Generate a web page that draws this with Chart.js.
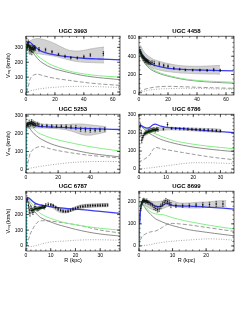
<!DOCTYPE html>
<html>
<head>
<meta charset="utf-8">
<script src="https://cdn.jsdelivr.net/npm/chart.js@4.4.0/dist/chart.umd.min.js"></script>
<style>
  body { margin: 0; background: #fff; width: 249px; height: 323px; position: relative; overflow: hidden; }
  canvas { position: absolute; }
</style>
</head>
<body>
<canvas id="c1" width="124" height="77" style="left:0;top:26px"></canvas>
<canvas id="c2" width="113" height="77" style="left:125px;top:26px"></canvas>
<canvas id="c3" width="124" height="77" style="left:0;top:104px"></canvas>
<canvas id="c4" width="113" height="77" style="left:125px;top:104px"></canvas>
<canvas id="c5" width="124" height="86" style="left:0;top:181px"></canvas>
<canvas id="c6" width="113" height="86" style="left:125px;top:181px"></canvas>
<script>
// ---- UGC 3993 ----
const r3993 = [0, 0.5, 1, 2, 3, 5, 8, 10, 15, 20, 30, 40, 50, 65];
const tot3993 = [null, 325, 335, 338, 332, 315, 290, 276, 260, 250, 236, 227, 222, 216];
const halo3993 = [null, 315, 328, 320, 305, 280, 245, 228, 195, 172, 140, 122, 110, 100];
const disk3993 = [null, 290, 300, 300, 290, 262, 225, 205, 175, 155, 130, 110, 97, 83];
const gas3993 = [0, 5, 15, 55, 90, 113, 120, 115, 102, 92, 78, 65, 55, 45];
const bul3993 = [0, 1, 2, 5, 8, 12, 19, 22, 28, 32, 37, 38, 36, 30];
const cyR3993 = [0, 0.15, 0.35], cyV3993 = [0, 200, 320];
const dgR3993 = [0.5, 1, 2, 3, 4, 5, 6], dgV3993 = [285, 320, 310, 300, 292, 288, 292];
const inR3993 = [0.8, 1.2, 1.6, 2.0, 2.4, 2.8, 3.2, 3.6, 4.0, 4.4, 4.8, 5.2, 5.6, 6.0, 6.5];
const inV3993 = [300, 320, 330, 310, 295, 280, 300, 290, 275, 300, 285, 295, 290, 300, 290];
const inE3993 = [20, 15, 20, 25, 20, 25, 15, 20, 25, 15, 20, 15, 15, 12, 12];
const outR3993 = [9, 13.5, 18, 22.5, 27, 31, 35.5, 40, 44.5, 53.5];
const outV3993 = [287, 284, 270, 253, 240, 230, 229, 237, 248, 258];
const outE3993 = [12, 10, 8, 8, 8, 8, 8, 10, 10, 14];
const bandR3993 = [1, 3, 5, 8, 10, 15, 20, 25, 30, 35, 40, 45, 50, 54];
const bandUp3993 = [330, 345, 355, 360, 358, 345, 325, 300, 280, 275, 280, 290, 298, 302];
const bandLo3993 = [260, 262, 262, 258, 255, 248, 240, 228, 215, 205, 200, 198, 196, 195];

// ---- UGC 4458 ----
const r4458 = [0, 0.3, 1, 2, 4, 7, 10, 15, 20, 30, 40, 50, 65];
const tot4458 = [null, 480, 450, 420, 385, 330, 305, 283, 268, 255, 249, 245, 240];
const halo4458 = [null, 470, 440, 400, 340, 285, 250, 215, 190, 155, 135, 125, 115];
const disk4458 = [null, 455, 425, 385, 325, 270, 238, 205, 182, 148, 128, 116, 105];
const gas4458 = [0, 5, 15, 25, 38, 50, 60, 67, 70, 66, 60, 55, 48];
const bul4458 = [0, 2, 5, 10, 18, 28, 35, 42, 45, 48, 47, 43, 37];
const cyR4458 = [0, 0.15, 0.3], cyV4458 = [0, 280, 470];
const dgR4458 = [0.5, 1, 2, 3, 4, 5, 6], dgV4458 = [460, 440, 405, 385, 370, 355, 345];
const inR4458 = [0.5, 1, 1.5, 2, 2.5, 3, 3.5, 4, 4.5, 5, 5.5, 6, 6.5, 7, 8, 9];
const inV4458 = [470, 450, 430, 410, 395, 380, 375, 360, 350, 355, 340, 345, 335, 330, 325, 330];
const inE4458 = [30, 25, 25, 25, 20, 25, 20, 25, 20, 20, 25, 20, 20, 20, 20, 20];
const outR4458 = [10.5, 14, 17, 20, 24, 28, 32, 37, 42, 47, 51.5, 56];
const outV4458 = [320, 315, 300, 290, 268, 258, 250, 248, 248, 245, 252, 245];
const outE4458 = [25, 20, 15, 15, 12, 10, 10, 10, 10, 10, 15, 12];
const bandR4458 = [1, 3, 5, 8, 10, 15, 20, 25, 30, 40, 50, 56];
const bandUp4458 = [520, 460, 420, 385, 365, 340, 320, 305, 295, 290, 295, 300];
const bandLo4458 = [390, 340, 305, 280, 265, 245, 232, 222, 215, 208, 205, 203];

// ---- UGC 5253 ----
const r5253 = [0, 0.3, 1, 2, 3, 5, 8, 10, 15, 20, 30, 40, 50, 58.5];
const tot5253 = [null, 235, 250, 258, 256, 248, 242, 240, 238, 236, 232, 229, 226, 224];
const halo5253 = [null, 255, 262, 255, 245, 225, 203, 195, 178, 165, 145, 127, 113, 103];
const disk5253 = [null, 240, 248, 235, 222, 200, 178, 167, 145, 130, 108, 90, 78, 70];
const gas5253 = [0, 10, 30, 70, 98, 115, 127, 128, 115, 105, 90, 78, 70, 64];
const bul5253 = [0, 1, 2, 5, 7, 10, 15, 18, 24, 30, 39, 43, 44, 43];
const cyR5253 = [0, 0.15, 0.3], cyV5253 = [0, 150, 240];
const dgR5253 = [0.5, 1, 2, 3, 4, 5], dgV5253 = [245, 255, 258, 262, 255, 250];
const inR5253 = [0.5, 1, 1.5, 2, 2.5, 3, 3.5, 4, 4.5, 5, 5.5, 6, 7, 8];
const inV5253 = [245, 255, 250, 265, 250, 258, 270, 255, 262, 248, 258, 250, 255, 250];
const inE5253 = [12, 10, 12, 12, 10, 12, 10, 12, 10, 12, 10, 10, 10, 10];
const outR5253 = [10, 13, 16, 19, 22, 25, 28, 31, 34, 37, 40, 43, 46, 49];
const outV5253 = [245, 245, 243, 242, 242, 240, 238, 235, 225, 222, 220, 220, 222, 225];
const outE5253 = [8, 8, 8, 8, 8, 10, 10, 12, 12, 12, 12, 10, 10, 10];
const bandR5253 = [1, 5, 10, 15, 20, 25, 30, 35, 40, 45, 50];
const bandUp5253 = [262, 262, 255, 252, 252, 252, 255, 255, 250, 245, 240];
const bandLo5253 = [230, 232, 232, 230, 228, 222, 210, 195, 192, 200, 210];

// ---- UGC 6786 ----
const r6786 = [0, 0.2, 0.5, 1, 2, 3, 4, 5, 6, 7, 8, 10, 13, 16, 20, 25, 30, 35];
const tot6786 = [null, 230, 245, 240, 232, 228, 232, 245, 250, 245, 238, 232, 228, 225, 220, 214, 208, 203];
const halo6786 = [null, 235, 245, 240, 228, 218, 210, 202, 196, 190, 183, 172, 158, 148, 138, 128, 120, 113];
const disk6786 = [null, 232, 240, 235, 220, 208, 197, 188, 180, 172, 165, 155, 143, 133, 122, 112, 104, 97];
const gas6786 = [0, 40, 44, 46, 55, 65, 80, 105, 120, 118, 114, 108, 100, 92, 82, 70, 60, 52];
const bul6786 = [0, 0, 1, 1, 3, 5, 6, 8, 10, 12, 14, 18, 24, 30, 35, 35, 33, 30];
const cyR6786 = [0, 0.1, 0.2], cyV6786 = [0, 140, 235];
const dgR6786 = [2, 3, 4, 5, 6, 7], dgV6786 = [195, 205, 210, 215, 218, 220];
const inR6786 = [0.5, 0.8, 1, 1.3, 1.6, 2, 2.5, 3, 3.5, 4, 4.5, 5, 5.5, 6, 6.5, 7];
const inV6786 = [240, 200, 160, 175, 185, 195, 200, 205, 210, 212, 215, 218, 220, 215, 222, 220];
const inE6786 = [12, 15, 15, 12, 12, 10, 10, 10, 10, 10, 10, 10, 10, 10, 10, 10];
const outR6786 = [9, 10.5, 12, 13.5, 15, 16.5, 18, 19.5, 21, 22.5, 24, 25.5, 27, 28.5, 30];
const outV6786 = [222, 248, 226, 225, 224, 224, 222, 221, 220, 219, 218, 217, 216, 214, 212];
const outE6786 = [6, 10, 6, 6, 6, 6, 6, 6, 6, 6, 6, 6, 6, 6, 6];
const bandR6786 = [2, 5, 8, 12, 16, 20, 24, 28, 30];
const bandUp6786 = [225, 228, 230, 232, 230, 228, 226, 224, 222];
const bandLo6786 = [195, 208, 215, 218, 216, 212, 208, 205, 203];

// ---- UGC 6787 ----
const r6787 = [0, 0.2, 0.5, 1, 2, 3, 4, 5, 6, 8, 10, 13, 16, 20, 25, 30, 38];
const tot6787 = [null, 280, 305, 308, 295, 280, 270, 265, 262, 256, 250, 245, 240, 235, 228, 220, 208];
const halo6787 = [null, 290, 305, 300, 275, 255, 235, 218, 205, 188, 175, 160, 146, 135, 122, 112, 100];
const disk6787 = [null, 275, 295, 285, 255, 230, 210, 193, 180, 165, 152, 135, 122, 105, 88, 75, 62];
const gas6787 = [0, 3, 10, 40, 85, 115, 140, 155, 160, 160, 158, 152, 145, 135, 118, 100, 82];
const bul6787 = [0, -2, -4, -5, -5, -3, 0, 5, 10, 18, 24, 28, 30, 35, 38, 38, 35];
const cyR6787 = [0, 0.1, 0.25], cyV6787 = [0, 180, 290];
const dgR6787 = [2, 3, 4, 5, 6, 7, 8], dgV6787 = [225, 232, 238, 240, 242, 245, 250];
const inR6787 = [0.5, 1, 1.3, 1.6, 2, 2.4, 2.8, 3.2, 3.6, 4, 4.5, 5, 5.5, 6, 6.5, 7, 7.5, 8, 9];
const inV6787 = [295, 260, 230, 210, 240, 225, 215, 230, 250, 240, 235, 238, 242, 245, 250, 248, 245, 260, 265];
const inE6787 = [15, 20, 20, 20, 15, 15, 15, 15, 15, 12, 12, 12, 12, 10, 10, 10, 10, 10, 10];
const outR6787 = [10, 11, 12, 13, 14, 15, 16, 17, 18, 19, 20, 21, 22, 23, 24, 25, 26, 27, 28, 29, 30, 31, 32, 33];
const outV6787 = [262, 258, 245, 235, 228, 222, 220, 222, 228, 235, 240, 245, 250, 252, 255, 256, 257, 258, 258, 259, 259, 260, 260, 261];
const outE6787 = [8, 8, 8, 8, 8, 8, 8, 8, 8, 8, 8, 8, 8, 8, 8, 8, 8, 8, 8, 8, 8, 8, 8, 8];
const bandR6787 = [10, 14, 18, 22, 26, 30, 33];
const bandUp6787 = [272, 240, 238, 262, 268, 270, 272];
const bandLo6787 = [250, 212, 218, 240, 247, 250, 250];

// ---- UGC 8699 ----
const r8699 = [0, 0.2, 0.5, 1, 1.5, 2, 3, 4, 5, 6, 7, 8, 9, 10, 12, 15, 20, 25, 28.3];
const tot8699 = [null, 100, 165, 192, 200, 202, 198, 188, 180, 178, 183, 192, 190, 184, 181, 180, 176, 171, 167];
const halo8699 = [null, 120, 170, 190, 185, 175, 160, 150, 145, 143, 142, 138, 133, 128, 120, 110, 96, 84, 77];
const disk8699 = [null, 110, 165, 188, 180, 168, 150, 135, 122, 115, 108, 102, 97, 92, 84, 73, 62, 52, 46];
const gas8699 = [0, 15, 30, 45, 50, 55, 62, 65, 68, 75, 85, 95, 100, 102, 100, 95, 84, 73, 66];
const bul8699 = [0, 0, 1, 2, 2, 3, 5, 8, 12, 14, 16, 18, 20, 21, 24, 27, 32, 30, 25];
const cyR8699 = [0, 0.1, 0.25], cyV8699 = [0, 70, 150];
const dgR8699 = [0.5, 1, 1.5, 2, 2.5, 3], dgV8699 = [180, 200, 205, 203, 200, 198];
const inR8699 = [0.5, 0.8, 1.1, 1.4, 1.7, 2, 2.3, 2.6, 3, 3.5, 4, 4.5, 5, 5.5, 6, 6.5, 7, 7.5, 8, 8.5, 9, 9.5];
const inV8699 = [170, 195, 205, 208, 205, 200, 205, 198, 195, 190, 185, 175, 170, 165, 168, 180, 190, 198, 205, 200, 195, 185];
const inE8699 = [10, 8, 8, 8, 8, 8, 8, 8, 8, 8, 8, 10, 10, 12, 12, 10, 10, 10, 10, 10, 12, 12];
const outR8699 = [11, 13, 15, 17, 19, 21, 23, 25];
const outV8699 = [182, 182, 183, 185, 186, 188, 190, 190];
const outE8699 = [8, 8, 8, 8, 10, 10, 12, 12];
const bandR8699 = [1, 5, 9, 12, 15, 18, 21, 24, 26];
const bandUp8699 = [210, 200, 208, 195, 195, 198, 200, 205, 205];
const bandLo8699 = [190, 160, 180, 175, 172, 172, 175, 178, 180];

// tick labels
const xTicks60 = [0, 20, 40, 60];
const xTicks40 = [0, 20, 40];
const xTicks30 = [0, 10, 20, 30];
const xTicks20 = [0, 10, 20];
const yTicks300 = [0, 100, 200, 300];
const yTicks600 = [0, 200, 400, 600];
const yTicks200 = [0, 100, 200];

const FONT = 'Liberation Sans';

const pts = (r, v) => r.map((x, i) => ({ x: x, y: v[i] }));

// frame with inward ticks on all sides + error bars
const boxPlugin = {
    id: 'box',
    afterDatasetsDraw(chart) {
        const { ctx, chartArea: a, scales: { x, y } } = chart;
        const o = chart.options.plugins.box;
        ctx.save();
        ctx.beginPath();
        ctx.rect(a.left, a.top, a.right - a.left, a.bottom - a.top);
        ctx.clip();
        ctx.strokeStyle = '#111';
        ctx.lineWidth = 0.5;
        chart.data.datasets.forEach(ds => {
            if (!ds.errs) return;
            ds.data.forEach((p, i) => {
                const px = x.getPixelForValue(p.x);
                const y1 = y.getPixelForValue(p.y - ds.errs[i]);
                const y2 = y.getPixelForValue(p.y + ds.errs[i]);
                ctx.beginPath();
                ctx.moveTo(px, y1); ctx.lineTo(px, y2);
                ctx.moveTo(px - 0.8, y1); ctx.lineTo(px + 0.8, y1);
                ctx.moveTo(px - 0.8, y2); ctx.lineTo(px + 0.8, y2);
                ctx.stroke();
            });
        });
        ctx.restore();

        ctx.save();
        ctx.strokeStyle = '#222';
        ctx.lineWidth = 0.7;
        ctx.strokeRect(a.left, a.top, a.right - a.left, a.bottom - a.top);
        ctx.beginPath();
        const xs = (step, len) => {
            for (let v = Math.ceil(x.min / step) * step; v <= x.max + 1e-9; v += step) {
                const px = x.getPixelForValue(v);
                ctx.moveTo(px, a.bottom); ctx.lineTo(px, a.bottom - len);
                ctx.moveTo(px, a.top); ctx.lineTo(px, a.top + len);
            }
        };
        const ys = (step, len) => {
            for (let v = Math.ceil(y.min / step) * step; v <= y.max + 1e-9; v += step) {
                const py = y.getPixelForValue(v);
                ctx.moveTo(a.left, py); ctx.lineTo(a.left + len, py);
                ctx.moveTo(a.right, py); ctx.lineTo(a.right - len, py);
            }
        };
        xs(o.xMinor, 1.5); xs(o.xMajor, 3);
        ys(o.yMinor, 1.5); ys(o.yMajor, 3);
        ctx.stroke();
        ctx.restore();
    }
};

function line(data, color, width, order, extra) {
    return Object.assign({
        data: data, borderColor: color, borderWidth: width, pointRadius: 0,
        fill: false, order: order, tension: 0.3, spanGaps: false
    }, extra || {});
}

function makePanel(id, g) {
    const datasets = [
        line(pts(g.outR, g.outV), '#000', 0, 0, { showLine: false, pointRadius: 0.8, pointBackgroundColor: '#000', pointBorderWidth: 0, errs: g.outE }),
        line(pts(g.inR, g.inV), '#000', 0, 0, { showLine: false, pointRadius: 0.7, pointBackgroundColor: '#000', pointBorderWidth: 0, errs: g.inE }),
        line(pts(g.dgR, g.dgV), '#0b6b0b', 2, 1),
        line(pts(g.r, g.tot), '#3b3bf0', 1.3, 2),
        line(pts(g.cyR, g.cyV), '#18b0b0', 1, 3, { tension: 0 }),
        line(pts(g.r, g.halo), '#86ee86', 1, 4),
        line(pts(g.r, g.disk), '#707070', 0.8, 5),
        line(pts(g.r, g.gas), '#808080', 0.8, 6, { borderDash: [4, 2] }),
        line(pts(g.r, g.bul), '#909090', 0.8, 7, { borderDash: [1, 1.5] }),
        line(pts(g.bandR, g.bandUp), '#9a9a9a', 0.5, 9, { fill: '+1', backgroundColor: 'rgba(165,165,165,0.5)' }),
        line(pts(g.bandR, g.bandLo), '#9a9a9a', 0.5, 10)
    ];
    return new Chart(document.getElementById(id), {
        type: 'line',
        data: { datasets: datasets },
        options: {
            responsive: false,
            animation: false,
            devicePixelRatio: 1,
            layout: { padding: { right: 2 } },
            plugins: {
                legend: { display: false },
                tooltip: { enabled: false },
                title: {
                    display: true, text: g.title, fullSize: false, color: '#000',
                    font: { family: FONT, size: 6, weight: 'bold' },
                    padding: { top: 2, bottom: 1 }
                },
                box: { xMajor: g.xTicks[1], xMinor: g.xMinor, yMajor: g.yTicks[1], yMinor: g.yMinor }
            },
            scales: {
                x: {
                    type: 'linear', min: 0, max: g.xMax,
                    grid: { display: false, drawTicks: false }, border: { display: false },
                    afterBuildTicks: s => { s.ticks = g.xTicks.map(v => ({ value: v })); },
                    afterFit: s => { s.height = g.bottom ? 16 : 8; },
                    ticks: { font: { family: FONT, size: 5 }, color: '#000', padding: 2, maxRotation: 0, autoSkip: false },
                    title: { display: !!g.bottom, text: 'R (kpc)', color: '#000', font: { family: FONT, size: 5.5 }, padding: { top: 0, bottom: 3 } }
                },
                y: {
                    min: g.yMin, max: g.yMax,
                    grid: { display: false, drawTicks: false }, border: { display: false },
                    afterBuildTicks: s => { s.ticks = g.yTicks.map(v => ({ value: v })); },
                    afterFit: s => { s.width = g.left ? 26 : 14; },
                    ticks: { font: { family: FONT, size: 5 }, color: '#000', padding: 3, autoSkip: false },
                    title: { display: !!g.left, text: 'Vᵣₒₜ (km/s)', color: '#000', font: { family: FONT, size: 5.5 }, padding: { top: 5, bottom: 0 } }
                }
            }
        },
        plugins: [boxPlugin]
    });
}

makePanel('c1', {
    title: 'UGC 3993', left: true, xMax: 65, yMin: -20, yMax: 375, xTicks: xTicks60, xMinor: 5, yTicks: yTicks300, yMinor: 20,
    r: r3993, tot: tot3993, halo: halo3993, disk: disk3993, gas: gas3993, bul: bul3993,
    cyR: cyR3993, cyV: cyV3993, dgR: dgR3993, dgV: dgV3993,
    inR: inR3993, inV: inV3993, inE: inE3993, outR: outR3993, outV: outV3993, outE: outE3993,
    bandR: bandR3993, bandUp: bandUp3993, bandLo: bandLo3993
});
makePanel('c2', {
    title: 'UGC 4458', xMax: 65.5, yMin: -25, yMax: 620, xTicks: xTicks60, xMinor: 5, yTicks: yTicks600, yMinor: 50,
    r: r4458, tot: tot4458, halo: halo4458, disk: disk4458, gas: gas4458, bul: bul4458,
    cyR: cyR4458, cyV: cyV4458, dgR: dgR4458, dgV: dgV4458,
    inR: inR4458, inV: inV4458, inE: inE4458, outR: outR4458, outV: outV4458, outE: outE4458,
    bandR: bandR4458, bandUp: bandUp4458, bandLo: bandLo4458
});
makePanel('c3', {
    title: 'UGC 5253', left: true, xMax: 58.5, yMin: -21, yMax: 310, xTicks: xTicks40, xMinor: 5, yTicks: yTicks300, yMinor: 20,
    r: r5253, tot: tot5253, halo: halo5253, disk: disk5253, gas: gas5253, bul: bul5253,
    cyR: cyR5253, cyV: cyV5253, dgR: dgR5253, dgV: dgV5253,
    inR: inR5253, inV: inV5253, inE: inE5253, outR: outR5253, outV: outV5253, outE: outE5253,
    bandR: bandR5253, bandUp: bandUp5253, bandLo: bandLo5253
});
makePanel('c4', {
    title: 'UGC 6786', xMax: 35, yMin: -22, yMax: 305, xTicks: xTicks30, xMinor: 2, yTicks: yTicks300, yMinor: 20,
    r: r6786, tot: tot6786, halo: halo6786, disk: disk6786, gas: gas6786, bul: bul6786,
    cyR: cyR6786, cyV: cyV6786, dgR: dgR6786, dgV: dgV6786,
    inR: inR6786, inV: inV6786, inE: inE6786, outR: outR6786, outV: outV6786, outE: outE6786,
    bandR: bandR6786, bandUp: bandUp6786, bandLo: bandLo6786
});
makePanel('c5', {
    title: 'UGC 6787', left: true, bottom: true, xMax: 38, yMin: -34, yMax: 350, xTicks: xTicks30, xMinor: 2, yTicks: yTicks300, yMinor: 20,
    r: r6787, tot: tot6787, halo: halo6787, disk: disk6787, gas: gas6787, bul: bul6787,
    cyR: cyR6787, cyV: cyV6787, dgR: dgR6787, dgV: dgV6787,
    inR: inR6787, inV: inV6787, inE: inE6787, outR: outR6787, outV: outV6787, outE: outE6787,
    bandR: bandR6787, bandUp: bandUp6787, bandLo: bandLo6787
});
makePanel('c6', {
    title: 'UGC 8699', bottom: true, xMax: 28.3, yMin: -23, yMax: 248, xTicks: xTicks20, xMinor: 2, yTicks: yTicks200, yMinor: 20,
    r: r8699, tot: tot8699, halo: halo8699, disk: disk8699, gas: gas8699, bul: bul8699,
    cyR: cyR8699, cyV: cyV8699, dgR: dgR8699, dgV: dgV8699,
    inR: inR8699, inV: inV8699, inE: inE8699, outR: outR8699, outV: outV8699, outE: outE8699,
    bandR: bandR8699, bandUp: bandUp8699, bandLo: bandLo8699
});
</script>
</body>
</html>
